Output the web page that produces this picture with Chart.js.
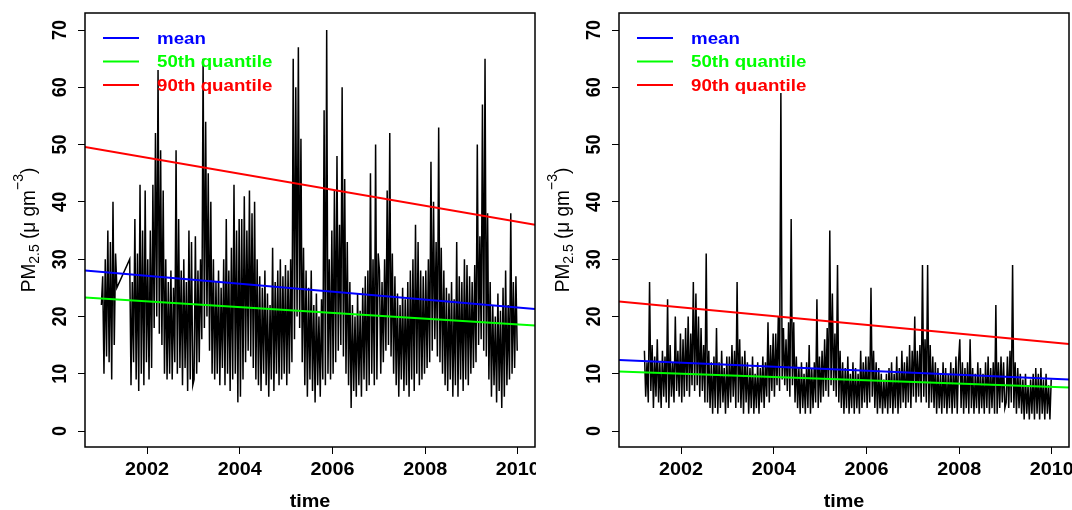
<!DOCTYPE html>
<html>
<head>
<meta charset="utf-8">
<script src="https://cdn.jsdelivr.net/npm/chart.js@4.4.1/dist/chart.umd.min.js"></script>
<style>
body { margin: 0; background: #fff; }
#wrap { display: flex; width: 1072px; height: 510px; }
canvas { display: block; }
</style>
</head>
<body>
<div id="wrap">
  <canvas id="c1" width="536" height="510"></canvas>
  <canvas id="c2" width="536" height="510"></canvas>
</div>
<script>
// ten-day (dekad) PM2.5 values, 36 per year
var firstYear = 2001;

var site1_2001 = [22, 27, 10, 30, 13, 35, 12, 33, 9, 40, 15, 31, 25, null, null, null, null, null, null, null, null, null, 30, 8, 26, 12, 37, 9, 31, 7, 43, 10, 35, 8, 42, 12];
var site1_2002 = [30, 9, 35, 11, 43, 18, 52, 20, 63, 17, 49, 15, 42, 10, 30, 9, 26, 10, 28, 9, 25, 12, 49, 10, 37, 11, 28, 8, 30, 11, 26, 7, 35, 9, 33, 8];
var site1_2003 = [9, 34, 10, 28, 12, 30, 16, 65, 18, 54, 20, 45, 14, 40, 10, 30, 9, 26, 10, 28, 8, 25, 11, 30, 8, 37, 10, 28, 7, 32, 9, 43, 10, 35, 5, 37];
var site1_2004 = [6, 37, 9, 41, 12, 35, 14, 42, 13, 38, 11, 40, 9, 30, 8, 27, 7, 25, 10, 28, 8, 24, 6, 22, 9, 32, 7, 26, 10, 28, 8, 30, 9, 27, 10, 29];
var site1_2005 = [8, 28, 10, 30, 12, 65, 16, 60, 20, 67, 18, 51, 12, 32, 8, 28, 6, 25, 9, 28, 7, 22, 5, 24, 8, 20, 6, 23, 9, 56, 8, 70, 10, 30, 9, 35];
var site1_2006 = [10, 42, 12, 48, 14, 36, 15, 60, 13, 44, 10, 33, 8, 26, 4, 22, 7, 20, 6, 24, 8, 21, 6, 25, 9, 27, 7, 28, 8, 45, 10, 30, 8, 50, 9, 31];
var site1_2007 = [28, 10, 26, 12, 30, 14, 42, 15, 52, 13, 31, 10, 27, 8, 24, 6, 22, 9, 25, 7, 23, 8, 26, 6, 28, 9, 30, 7, 36, 10, 33, 8, 28, 9, 27, 10];
var site1_2008 = [28, 11, 30, 12, 47, 14, 40, 16, 33, 13, 53, 12, 32, 10, 28, 8, 25, 7, 24, 9, 26, 6, 23, 8, 33, 6, 27, 9, 26, 7, 30, 9, 29, 8, 27, 10];
var site1_2009 = [26, 11, 29, 12, 50, 15, 34, 16, 57, 14, 65, 13, 38, 9, 26, 6, 22, 8, 20, 5, 24, 7, 21, 4, 25, 6, 28, 8, 22, 9, 38, 10, 26, 11, 27, 14];

var site2_2001 = [null, null, null, null, null, null, null, 14, 6, 12, 5, 26, 7, 15, 4, 13, 6, 16, 5, 12, 4, 14, 6, 13, 5, 23, 4, 15, 6, 12, 5, 20, 7, 14, 6, 17];
var site2_2002 = [5, 16, 6, 18, 7, 20, 6, 17, 8, 26, 7, 24, 8, 20, 6, 18, 7, 15, 5, 31, 5, 14, 4, 12, 3, 13, 4, 18, 3, 12, 4, 14, 5, 11, 3, 13];
var site2_2003 = [4, 13, 5, 15, 6, 14, 4, 26, 5, 16, 4, 13, 3, 14, 5, 12, 3, 11, 4, 13, 3, 10, 4, 12, 3, 11, 5, 13, 4, 12, 6, 19, 5, 15, 7, 17];
var site2_2004 = [6, 17, 8, 20, 7, 59, 9, 18, 8, 16, 7, 19, 6, 37, 8, 19, 5, 13, 4, 11, 3, 12, 4, 10, 3, 12, 4, 15, 3, 11, 4, 12, 5, 23, 4, 13];
var site2_2005 = [5, 14, 6, 16, 7, 18, 6, 35, 8, 24, 7, 17, 6, 29, 5, 14, 4, 12, 3, 11, 4, 13, 3, 10, 4, 12, 3, 11, 4, 10, 3, 14, 4, 12, 5, 13];
var site2_2006 = [4, 13, 5, 25, 6, 14, 4, 12, 3, 11, 4, 10, 3, 9, 4, 10, 3, 11, 4, 12, 3, 10, 4, 13, 3, 11, 4, 14, 5, 12, 4, 13, 5, 15, 4, 14];
var site2_2007 = [6, 20, 5, 14, 6, 15, 5, 29, 6, 16, 5, 29, 4, 15, 5, 13, 4, 12, 3, 11, 4, 10, 3, 12, 4, 11, 3, 10, 4, 12, 3, 11, 4, 13, 3, 12];
var site2_2008 = [16, 4, 12, 3, 11, 4, 12, 3, 16, 4, 11, 3, 10, 4, 12, 3, 11, 4, 10, 3, 12, 4, 13, 3, 11, 4, 12, 3, 22, 3, 12, 4, 13, 5, 12, 4];
var site2_2009 = [5, 13, 4, 14, 5, 29, 4, 12, 3, 11, 4, 10, 3, 9, 2, 10, 3, 8, 2, 9, 3, 10, 2, 11, 3, 10, 2, 11, 3, 9, 2, 10, 3, 8, 2, 9];

// fitted trend lines, value at the left and right end of the time axis
var trendEnds = [2000.66, 2010.37];
var site1Mean = [28.0, 21.3];
var site1Q50 = [23.3, 18.4];
var site1Q90 = [49.6, 36.0];
var site2Mean = [12.4, 9.0];
var site2Q50 = [10.4, 7.6];
var site2Q90 = [22.6, 15.2];

var yearTicks = [2002, 2004, 2006, 2008, 2010];
var valueTicks = [0, 10, 20, 30, 40, 50, 60, 70];
var legendLabels = ["mean", "50th quantile", "90th quantile"];
var legendColors = ["#0000ff", "#00ff00", "#ff0000"];

var stretch = 1.1;
var fontName = '"Liberation Sans", Arial, sans-serif';

function series(years) {
  var pts = [];
  for (var k = 0; k < years.length; k++) {
    var vals = years[k];
    for (var i = 0; i < vals.length; i++) {
      pts.push({x: firstYear + k + (i + 0.5) / vals.length, y: vals[i]});
    }
  }
  return pts;
}

function trend(vals) {
  return [{x: trendEnds[0], y: vals[0]}, {x: trendEnds[1], y: vals[1]}];
}

function text(ctx, str, x, y, font, color, align, angle) {
  ctx.save();
  ctx.translate(x, y);
  ctx.scale(stretch, 1);
  ctx.rotate(angle || 0);
  ctx.font = font;
  ctx.fillStyle = color;
  ctx.textAlign = align || "center";
  ctx.textBaseline = "middle";
  ctx.fillText(str, 0, 0);
  ctx.restore();
}

function yTitle(ctx, x, y) {
  var parts = [
    {t: "PM", size: 19, dy: 0},
    {t: "2.5", size: 14, dy: 5},
    {t: " (", size: 19, dy: 0},
    {t: "\u03bc", size: 19, dy: 0},
    {t: " gm", size: 19, dy: 0},
    {t: "\u22123", size: 14, dy: -9},
    {t: ")", size: 19, dy: 0}
  ];
  ctx.save();
  ctx.translate(x, y);
  ctx.scale(stretch, 1);
  ctx.rotate(-Math.PI / 2);
  ctx.fillStyle = "#000";
  ctx.textBaseline = "middle";
  ctx.textAlign = "left";
  var total = 0;
  parts.forEach(function(p) {
    ctx.font = p.size + "px " + fontName;
    p.w = ctx.measureText(p.t).width;
    total += p.w;
  });
  var pos = -total / 2;
  parts.forEach(function(p) {
    ctx.font = p.size + "px " + fontName;
    ctx.fillText(p.t, pos, p.dy);
    pos += p.w;
  });
  ctx.restore();
}

var decorations = {
  id: "decorations",
  afterDraw: function(chart) {
    var ctx = chart.ctx, a = chart.chartArea;
    var xs = chart.scales.x, ys = chart.scales.y;
    ctx.save();
    ctx.strokeStyle = "#000";
    ctx.lineWidth = 1.5;
    ctx.strokeRect(a.left, a.top, a.right - a.left, a.bottom - a.top);

    yearTicks.forEach(function(v) {
      text(ctx, String(v), xs.getPixelForValue(v), 470, "bold 18px " + fontName, "#000");
    });
    valueTicks.forEach(function(v) {
      text(ctx, String(v), a.left - 24, ys.getPixelForValue(v), "bold 18px " + fontName, "#000", "center", -Math.PI / 2);
    });
    text(ctx, "time", (a.left + a.right) / 2, 502, "bold 18px " + fontName, "#000");
    yTitle(ctx, a.left - 56, (a.top + a.bottom) / 2);

    for (var k = 0; k < legendLabels.length; k++) {
      var ly = a.top + 25 + k * 23.5;
      ctx.strokeStyle = legendColors[k];
      ctx.lineWidth = 2;
      ctx.beginPath();
      ctx.moveTo(a.left + 18, ly);
      ctx.lineTo(a.left + 54, ly);
      ctx.stroke();
      text(ctx, legendLabels[k], a.left + 72, ly + 1, "bold 17px " + fontName, legendColors[k], "left");
    }
    ctx.restore();
  }
};

function makeChart(id, values, mean, q50, q90, left, right) {
  return new Chart(document.getElementById(id), {
    type: "line",
    data: {
      datasets: [
        {data: trend(mean), borderColor: "#0000ff", borderWidth: 2, order: 0},
        {data: trend(q50), borderColor: "#00ff00", borderWidth: 2, order: 1},
        {data: trend(q90), borderColor: "#ff0000", borderWidth: 2, order: 2},
        {data: series(values), borderColor: "#000", borderWidth: 1.5, spanGaps: true, order: 3}
      ]
    },
    options: {
      responsive: false,
      animation: false,
      events: [],
      layout: {padding: {top: 13, right: 536 - right, left: 0, bottom: 0}},
      elements: {point: {radius: 0}, line: {tension: 0}},
      plugins: {legend: {display: false}, tooltip: {enabled: false}},
      scales: {
        x: {
          type: "linear", min: 2000.66, max: 2010.37,
          afterBuildTicks: function(s) { s.ticks = yearTicks.map(function(v) { return {value: v}; }); },
          afterFit: function(s) { s.height = 63; },
          ticks: {display: false},
          grid: {drawOnChartArea: false, drawTicks: true, tickLength: 7, color: "#000", lineWidth: 1},
          border: {display: false}
        },
        y: {
          type: "linear", min: -2.79, max: 72.97,
          afterBuildTicks: function(s) { s.ticks = valueTicks.map(function(v) { return {value: v}; }); },
          afterFit: function(s) { s.width = left; },
          ticks: {display: false},
          grid: {drawOnChartArea: false, drawTicks: true, tickLength: 7, color: "#000", lineWidth: 1},
          border: {display: false}
        }
      }
    },
    plugins: [decorations]
  });
}

makeChart("c1", [site1_2001, site1_2002, site1_2003, site1_2004, site1_2005, site1_2006, site1_2007, site1_2008, site1_2009],
  site1Mean, site1Q50, site1Q90, 85, 535);
makeChart("c2", [site2_2001, site2_2002, site2_2003, site2_2004, site2_2005, site2_2006, site2_2007, site2_2008, site2_2009],
  site2Mean, site2Q50, site2Q90, 83, 533);
</script>
</body>
</html>
